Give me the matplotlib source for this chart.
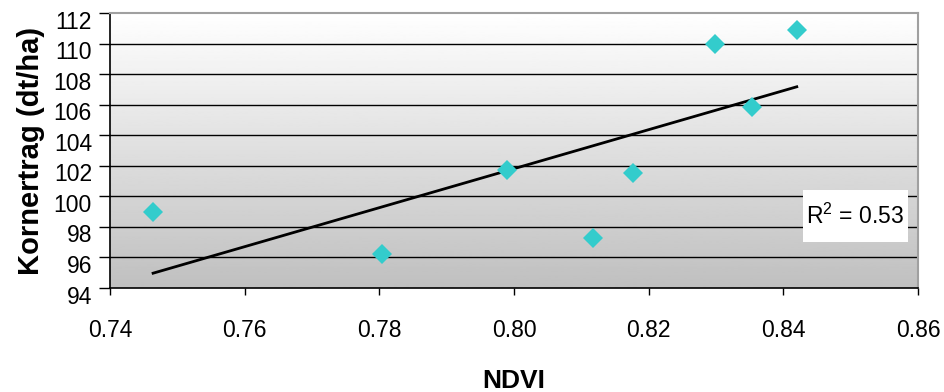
import numpy as np
import matplotlib.pyplot as plt
from matplotlib.patches import Rectangle
from matplotlib.transforms import ScaledTranslation

plt.rcParams['font.family'] = ['Liberation Sans', 'DejaVu Sans']
plt.rcParams['mathtext.default'] = 'regular'

# NDVI vs. Kornertrag
ndvi = [0.7464, 0.7804, 0.7990, 0.8117, 0.8177, 0.8299, 0.8353, 0.8420]
ertrag = [99.0, 96.2, 101.7, 97.3, 101.5, 110.0, 105.85, 110.9]
r2_text = "R$^2$ = 0.53"

yticks = np.arange(94, 113, 2)
xticks = [0.74, 0.76, 0.78, 0.80, 0.82, 0.84, 0.86]
xticklabels = ["0.74", "0.76", "0.78", "0.80", "0.82", "0.84", "0.86"]

fig = plt.figure(figsize=(9.45, 3.92), dpi=100)
ax = fig.add_axes([0.1164, 0.2653, 0.9714 - 0.1164, 0.9668 - 0.2653])

# grey gradient background (white at top)
grad = np.linspace(1.0, 0.75, 256).reshape(-1, 1)
ax.imshow(grad, cmap='gray', vmin=0, vmax=1, aspect='auto',
          extent=[0, 1, 0, 1], transform=ax.transAxes, zorder=0)

ax.set_xlim(0.74, 0.86)
ax.set_ylim(94, 112)

for yv in yticks[1:-1]:
    ax.axhline(yv, color='black', lw=1.0, zorder=1)

# linear trend
k, d = np.polyfit(ndvi, ertrag, 1)
xs = np.array([min(ndvi), max(ndvi)])
ax.plot(xs, k * xs + d, color='black', lw=2.0, zorder=2)

ax.plot(ndvi, ertrag, linestyle='none', marker='D', markersize=10,
        color='#33CCCC', markeredgewidth=0, zorder=3)

# white box with the R² label
ax.add_patch(Rectangle((0.8429, 97.0), 0.0156, 3.4, facecolor='white',
                       edgecolor='none', zorder=4))
ax.text(0.8507, 98.7, r2_text, fontsize=16.5, ha='center', va='center', zorder=5)

ax.set_xticks(xticks)
ax.set_xticklabels(xticklabels)
ax.set_yticks(yticks)
ax.tick_params(axis='y', direction='out', length=8, width=1, pad=5, labelsize=16.5)
ax.tick_params(axis='x', direction='out', length=5, width=1, pad=17, labelsize=16.5)

# y labels sit a bit below their ticks
shift = ScaledTranslation(0, -0.065, fig.dpi_scale_trans)
for lab in ax.get_yticklabels():
    lab.set_transform(lab.get_transform() + shift)

for side in ['left', 'bottom']:
    ax.spines[side].set_color('black')
    ax.spines[side].set_linewidth(1.2)
for side in ['top', 'right']:
    ax.spines[side].set_color('#a0a0a0')
    ax.spines[side].set_linewidth(1.5)

ax.set_ylabel("Kornertrag (dt/ha)", fontsize=21, fontweight='bold', labelpad=6)
ax.set_xlabel("NDVI", fontsize=19, fontweight='bold', labelpad=20)

fig.savefig("out.png", dpi=100)
